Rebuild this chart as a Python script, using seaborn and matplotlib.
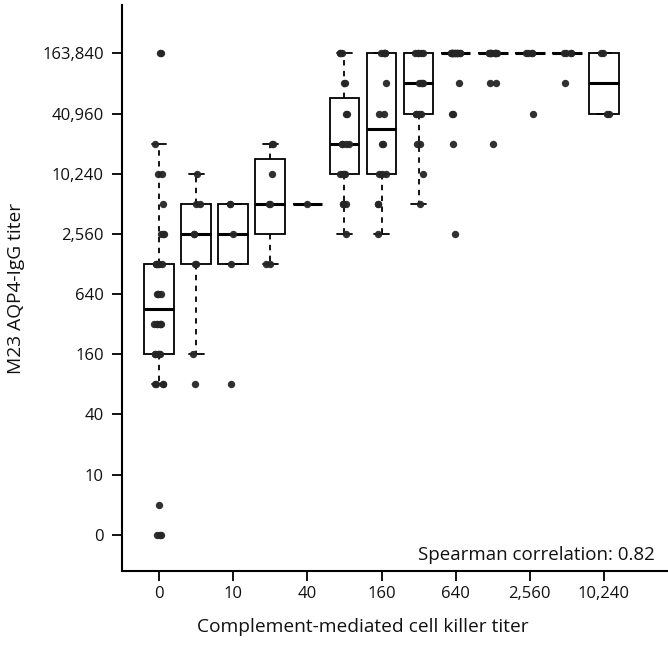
import numpy as np
import pandas as pd
import seaborn as sns
import matplotlib.pyplot as plt

sns.set_theme(style="ticks")
plt.rcParams['font.family'] = ['Open Sans', 'DejaVu Sans']
plt.rcParams['text.color'] = '#111111'
plt.rcParams['axes.labelcolor'] = '#111111'
plt.rcParams['xtick.labelcolor'] = '#111111'
plt.rcParams['ytick.labelcolor'] = '#111111'

# complement-mediated cell killer titer categories (x)
killer_titers = [0, 5, 10, 20, 40, 80, 160, 320, 640, 1280, 2560, 5120, 10240]

# M23 AQP4-IgG titers observed in each killer-titer group
aqp4_k0 = [0, 0, 0, 5, 80, 80, 80, 80, 160, 160, 160, 160, 160,
           320, 320, 320, 320, 320, 320, 640, 640, 640, 640,
           1280, 1280, 1280, 1280, 1280, 1280, 2560, 2560, 2560,
           5120, 10240, 10240, 20480, 163840, 163840]
aqp4_k5 = [80, 160, 1280, 1280, 2560, 2560, 5120, 5120, 10240]
aqp4_k10 = [80, 1280, 2560, 5120, 5120]
aqp4_k20 = [1280, 1280, 5120, 5120, 10240, 20480, 20480]
aqp4_k40 = [5120]
aqp4_k80 = [2560, 5120, 5120, 5120, 10240, 10240, 10240, 10240,
            20480, 20480, 20480, 20480, 40960, 40960, 81920, 81920,
            163840, 163840, 163840]
aqp4_k160 = [2560, 5120, 5120, 10240, 10240, 10240, 20480, 20480,
             40960, 40960, 81920, 163840, 163840, 163840, 163840, 163840]
aqp4_k320 = [5120, 10240, 20480, 20480, 40960, 40960, 40960, 40960,
             81920, 81920, 81920, 81920, 163840, 163840, 163840, 163840, 163840]
aqp4_k640 = [2560, 20480, 40960, 40960, 81920] + [163840] * 16
aqp4_k1280 = [20480, 81920, 81920] + [163840] * 10
aqp4_k2560 = [40960, 163840, 163840, 163840, 163840]
aqp4_k5120 = [81920, 163840, 163840, 163840, 163840]
aqp4_k10240 = [40960, 40960, 163840, 163840]

groups = [aqp4_k0, aqp4_k5, aqp4_k10, aqp4_k20, aqp4_k40, aqp4_k80, aqp4_k160,
          aqp4_k320, aqp4_k640, aqp4_k1280, aqp4_k2560, aqp4_k5120, aqp4_k10240]

y_ticks = [0, 10, 40, 160, 640, 2560, 10240, 40960, 163840]
x_ticks = [0, 10, 40, 160, 640, 2560, 10240]


def level(v):
    # two-fold dilution steps, 0 placed one step below 5
    return 0.0 if v == 0 else np.log2(v / 5) + 1


rows = []
for kt, vals in zip(killer_titers, groups):
    for v in vals:
        rows.append((str(kt), level(v)))
df = pd.DataFrame(rows, columns=["killer", "lvl"])
order = [str(k) for k in killer_titers]

fig = plt.figure(figsize=(6.68, 6.47), dpi=100)
ax = fig.add_axes([0.1826, 0.1175, 0.8159, 0.8745])

sns.boxplot(data=df, x="killer", y="lvl", order=order, ax=ax,
            color="white", linecolor="black", linewidth=1.3, width=0.8,
            showfliers=False,
            whiskerprops=dict(linestyle=(0, (3, 3))),
            medianprops=dict(linewidth=2.2))

np.random.seed(3)
sns.stripplot(data=df, x="killer", y="lvl", order=order, ax=ax,
              color="#262626", size=5.3, jitter=0.13, alpha=0.95, zorder=5)

ax.set_xlim(-1.0, 13.7)
ax.set_ylim(-1.2, 17.6)
ax.set_xticks([order.index(str(t)) for t in x_ticks])
ax.set_xticklabels([f"{t:,}" for t in x_ticks])
ax.set_yticks([level(t) for t in y_ticks])
ax.set_yticklabels([f"{t:,}" for t in y_ticks])
ax.tick_params(axis="both", length=7, width=1.3, labelsize=12, color="black")
ax.tick_params(axis="y", pad=6)
for s in ["left", "bottom"]:
    ax.spines[s].set_linewidth(1.5)
    ax.spines[s].set_color("black")
sns.despine(ax=ax)

ax.set_xlabel("Complement-mediated cell killer titer", fontsize=13.8)
ax.set_ylabel("M23 AQP4-IgG titer", fontsize=13.8)
ax.xaxis.set_label_coords(0.442, -0.083)
ax.yaxis.set_label_coords(-0.178, 0.5)
ax.text(0.978, 0.019, "Spearman correlation: 0.82", transform=ax.transAxes,
        ha="right", va="baseline", fontsize=13.5)

fig.savefig("out.png", dpi=100)
